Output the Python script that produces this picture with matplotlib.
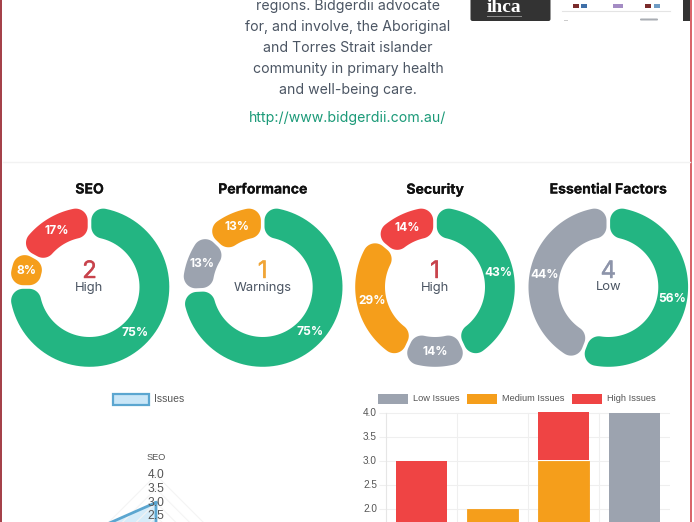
import numpy as np
import matplotlib
matplotlib.use("Agg")
import matplotlib.pyplot as plt
import matplotlib.patheffects as pe
from matplotlib.patches import Rectangle, FancyBboxPatch, Polygon

W, H = 694, 522
GREEN, ORANGE, RED, GREY = '#23b582', '#f59e1b', '#ef4444', '#9ca3af'

body_lines = ["regions. Bidgerdii advocate", "for, and involve, the Aboriginal",
              "and Torres Strait islander", "community in primary health",
              "and well-being care."]
link_text = "http://www.bidgerdii.com.au/"

donut_titles = ["SEO", "Performance", "Security", "Essential Factors"]
donut_values = [[75, 8, 17], [75, 13, 13], [43, 14, 29, 14], [56, 44]]
donut_colors = [[GREEN, ORANGE, RED], [GREEN, GREY, ORANGE],
                [GREEN, GREY, ORANGE, RED], [GREEN, GREY]]
donut_counts = ["2", "1", "1", "4"]
donut_levels = ["High", "Warnings", "High", "Low"]
donut_count_colors = ['#c8434c', '#f0a536', '#c8434c', '#8d94aa']
donut_centers = [89.5, 262.7, 435, 608.3]

radar_categories = ["SEO", "Performance", "Security", "Essential Factors"]
radar_values = [3, 0, 0, 6.8]
radar_ticks = [0.5, 1, 1.5, 2, 2.5, 3, 3.5, 4]
radar_tick_labels_shown = [2.5, 3.0, 3.5, 4.0]

bar_low = [0, 0, 0, 4]
bar_medium = [0, 2, 3, 0]
bar_high = [3, 0, 1, 0]
bar_ticks = [2.0, 2.5, 3.0, 3.5, 4.0]
legend_labels = ["Low Issues", "Medium Issues", "High Issues"]

plt.rcParams['font.family'] = ['Liberation Sans', 'DejaVu Sans']
fig = plt.figure(figsize=(W / 100, H / 100), dpi=100, facecolor='white')


def px_axes(x0, y0, x1, y1, **kw):
    return fig.add_axes([x0 / W, 1 - y1 / H, (x1 - x0) / W, (y1 - y0) / H], **kw)


def pt(p):
    return p * 0.72


page = px_axes(0, 0, W, H)
page.set_xlim(0, W)
page.set_ylim(H, 0)
page.axis('off')

# page frame and separators
page.add_patch(Rectangle((0, 0), 2.2, H, color='#a5414a', lw=0))
page.add_patch(Rectangle((690.3, 0), 1.8, H, color='#d9656b', lw=0))
page.plot([3, 690], [162, 162], color='#f2f2f2', lw=1)

# page text
for y, s in zip([6, 27, 48, 69, 90], body_lines):
    page.text(348, y, s, ha='center', va='center', family=['Inter', 'DejaVu Sans'],
              fontsize=pt(14.1), color='#4b5563')
page.text(348, 118, link_text, ha='center', va='center', family=['Inter', 'DejaVu Sans'],
          fontsize=pt(14.1), color='#1b9a78')

# logo strip
page.add_patch(FancyBboxPatch((470.5, -8), 80, 29, boxstyle="round,pad=0,rounding_size=2",
                              fc='#333333', ec='none'))
page.text(504, 7.2, "ihca", ha='center', va='center', family='Liberation Serif',
          weight='bold', fontsize=pt(19.5), color='white')
page.add_patch(Rectangle((487, 16), 35, 1, color='#8a8a8a', lw=0))
page.add_patch(Rectangle((683, 0), 7, 21, color='#333333', lw=0))
page.plot([562, 670], [10.5, 10.5], color='#e4e4e4', lw=0.8)
for x, w, c in [(573, 6, '#7a2b2b'), (581, 6, '#3f6fa8'), (613, 10, '#a48cc4'),
                (645, 6, '#7a2b2b'), (654, 6, '#6f9cc4')]:
    page.add_patch(Rectangle((x, 3.5), w, 4, color=c, lw=0))
page.add_patch(Rectangle((564, 19.5), 4, 1, color='#cccccc', lw=0))
page.add_patch(FancyBboxPatch((640, 18.5), 18, 2, boxstyle="round,pad=0,rounding_size=1",
                              fc='#a9adb3', ec='none'))

# ---- donuts ----
R_OUT, R_IN, CORNER, GAP = 79.8, 50.0, 12.0, 3.6


def arc(cx, cy, rad, a0, a1, n=16):
    t = np.linspace(a0, a1, n)
    return np.c_[cx + rad * np.cos(t), cy + rad * np.sin(t)]


def sector(a, b):
    """Rounded ring sector from math angle a clockwise to b."""
    c = CORNER
    half = c + GAP / 2
    ro, ri = R_OUT - c, R_IN + c
    d_o = np.arcsin(half / ro)
    d_i = np.arcsin(half / ri)
    q = np.pi / 2
    pts = []
    ca = a - d_o
    pts.append(arc(ro * np.cos(ca), ro * np.sin(ca), c, a + q, ca))
    pts.append(arc(0, 0, R_OUT, a - d_o, b + d_o, 80))
    cb = b + d_o
    pts.append(arc(ro * np.cos(cb), ro * np.sin(cb), c, cb, b - q))
    cb = b + d_i
    pts.append(arc(ri * np.cos(cb), ri * np.sin(cb), c, b - q, cb - np.pi))
    pts.append(arc(0, 0, R_IN, b + d_i, a - d_i, 80))
    ca = a - d_i
    pts.append(arc(ri * np.cos(ca), ri * np.sin(ca), c, ca + np.pi, a + q))
    return np.vstack(pts)


for cx, title, vals, cols, cnt, lev, cc in zip(donut_centers, donut_titles, donut_values,
                                               donut_colors, donut_counts, donut_levels,
                                               donut_count_colors):
    ax = px_axes(cx - 85, 287 - 85, cx + 85, 287 + 85)
    ax.set_xlim(-85, 85)
    ax.set_ylim(-85, 85)
    ax.axis('off')
    ax.patch.set_alpha(0)
    total = sum(vals)
    start = np.pi / 2
    for v, col in zip(vals, cols):
        sweep = 2 * np.pi * v / total
        ax.add_patch(Polygon(sector(start, start - sweep), closed=True, fc=col, ec='none'))
        mid = start - sweep / 2
        rm = (R_OUT + R_IN) / 2
        ax.text(rm * np.cos(mid), rm * np.sin(mid), f"{v}%", ha='center', va='center',
                color='white', weight='bold', fontsize=pt(12),
                family=['Inter', 'DejaVu Sans'])
        start -= sweep
    ax.text(0, 15, cnt, ha='center', va='center', color=cc, fontsize=pt(24),
            family=['Inter', 'DejaVu Sans'],
            path_effects=[pe.withStroke(linewidth=0.3, foreground=cc)])
    ax.text(0, -0.5, lev, ha='center', va='center', color='#4b5563', fontsize=pt(13),
            family=['Inter', 'DejaVu Sans'])
    page.text(cx, 189.5, title, ha='center', va='center', color='#111111', weight='bold',
              fontsize=pt(14), family=['Inter', 'DejaVu Sans'],
              path_effects=[pe.withStroke(linewidth=0.12, foreground='#111111')])

# ---- radar ----
UNIT = 27.5
RX, RY = 156, 585
rad = px_axes(3, 440, 340, 522)
rad.set_xlim((3 - RX) / UNIT, (340 - RX) / UNIT)
rad.set_ylim((RY - 522) / UNIT, (RY - 440) / UNIT)
rad.axis('off')
rad.patch.set_alpha(0)
angles = np.pi / 2 - 2 * np.pi * np.arange(len(radar_categories)) / len(radar_categories)
for t in radar_ticks:
    rad.plot(np.r_[t * np.cos(angles), t * np.cos(angles[0])],
             np.r_[t * np.sin(angles), t * np.sin(angles[0])], color='#f4f4f4', lw=0.8)
for t in radar_tick_labels_shown:
    rad.text(0, t, f"{t:.1f}", ha='center', va='center', color='#555555', fontsize=pt(12))
rv = np.array(radar_values)
rx, ry = rv * np.cos(angles), rv * np.sin(angles)
rad.fill(rx, ry, color='#c9e6f7', alpha=0.75, lw=0)
rad.plot(np.r_[rx, rx[0]], np.r_[ry, ry[0]], color='#5ba6d0', lw=2)
rad.text(0, 4.65, radar_categories[0], ha='center', va='center', color='#555555',
         fontsize=pt(9.3))

page.add_patch(Rectangle((113, 393.5), 36, 11, fc='#c9e6f7', ec='#5ba6d0', lw=1.6))
page.text(154, 398.5, "Issues", ha='left', va='center', color='#555555', fontsize=pt(10.4))

# ---- stacked bars ----
bar = px_axes(386, 412.5, 670, 604.5)
bar.set_xlim(-0.5, 3.5)
bar.set_ylim(0, 4)
x = np.arange(len(bar_low))
bl, bm, bh = np.array(bar_low), np.array(bar_medium), np.array(bar_high)
m = bl > 0
bar.bar(x[m], bl[m], width=0.72, color=GREY, zorder=3)
m = bh > 0
bar.bar(x[m], bh[m], width=0.72, bottom=(bl + bm)[m], color=RED, zorder=3)
m = bm > 0
bar.bar(x[m], bm[m], width=0.72, bottom=bl[m], color=ORANGE, edgecolor=ORANGE, lw=0.6, zorder=4)
bar.set_yticks(bar_ticks)
bar.set_yticklabels([f"{t:.1f}" for t in bar_ticks], color='#555555', fontsize=pt(10))
bar.set_xticks([0.5, 1.5, 2.5])
bar.set_xticklabels([])
bar.grid(True, color='#efefef', lw=0.8, zorder=0)
bar.tick_params(axis='y', length=5, color='#efefef', pad=1.5, width=0.8)
bar.tick_params(axis='x', length=0)
for s in ['top', 'right', 'bottom']:
    bar.spines[s].set_visible(False)
bar.spines['left'].set_color('#e6e6e6')
bar.spines['left'].set_linewidth(0.8)
bar.patch.set_alpha(0)

for sx, tx, col, lab in zip([378, 467, 572], [413, 502, 607], [GREY, ORANGE, RED], legend_labels):
    page.add_patch(Rectangle((sx, 394), 30, 10, color=col, lw=0))
    page.text(tx, 398.5, lab, ha='left', va='center', color='#555555', fontsize=pt(9.3))

fig.savefig('out.png', dpi=100, facecolor='white')
